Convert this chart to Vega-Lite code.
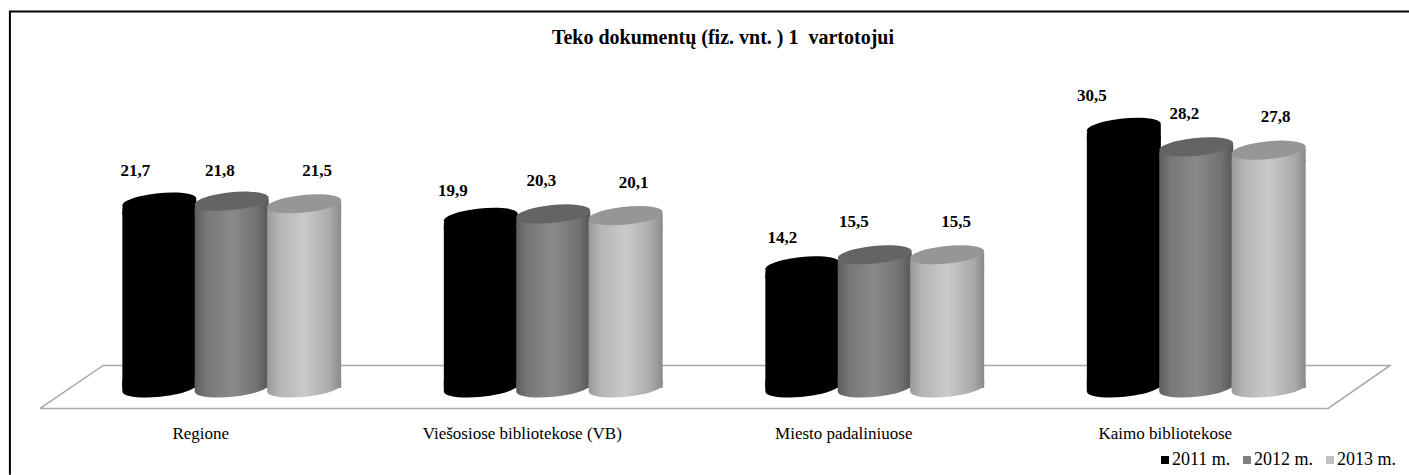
{"$schema":"https://vega.github.io/schema/vega-lite/v6.json","width":1286,"height":374,"autosize":"none","padding":{"left":71,"top":48,"right":52,"bottom":53},"background":"white","config":{"view":{"stroke":null},"font":"Liberation Serif"},
"title":{"text":"Teko dokumentų (fiz. vnt. ) 1\u00a0\u00a0vartotojui","font":"Liberation Serif","fontSize":20,"fontWeight":"bold","color":"black","anchor":"middle","frame":"group","dx":9,"offset":-41},
"data":{"values":[
{"cat":"Regione","year":"2011","value":21.7,"label":"21,7"},{"cat":"Regione","year":"2012","value":21.8,"label":"21,8"},{"cat":"Regione","year":"2013","value":21.5,"label":"21,5"},
{"cat":"Viešosiose bibliotekose (VB)","year":"2011","value":19.9,"label":"19,9"},{"cat":"Viešosiose bibliotekose (VB)","year":"2012","value":20.3,"label":"20,3"},{"cat":"Viešosiose bibliotekose (VB)","year":"2013","value":20.1,"label":"20,1"},
{"cat":"Miesto padaliniuose","year":"2011","value":14.2,"label":"14,2"},{"cat":"Miesto padaliniuose","year":"2012","value":15.5,"label":"15,5"},{"cat":"Miesto padaliniuose","year":"2013","value":15.5,"label":"15,5"},
{"cat":"Kaimo bibliotekose","year":"2011","value":30.5,"label":"30,5"},{"cat":"Kaimo bibliotekose","year":"2012","value":28.2,"label":"28,2"},{"cat":"Kaimo bibliotekose","year":"2013","value":27.8,"label":"27,8"}]},
"resolve":{"scale":{"x":"independent"}},
"layer":[
{"data":{"values":[
{"s":"frame","o":1,"u":-0.19,"v":-10.2},{"s":"frame","o":2,"u":-0.19,"v":44.3},{"s":"frame","o":3,"u":4.17,"v":44.3}]},
"mark":{"type":"line","color":"black","strokeWidth":2,"clip":false},
"encoding":{"x":{"field":"u","type":"quantitative","axis":null,"scale":{"domain":[0,4],"nice":false,"zero":false}},"y":{"field":"v","type":"quantitative","axis":null,"scale":{"domain":[-4,40],"nice":false,"zero":false}},"order":{"field":"o"},"detail":{"field":"s"}}},
{"data":{"values":[
{"s":"floor","o":1,"u":-0.096,"v":-2.4},{"s":"floor","o":2,"u":0.1,"v":2.65},{"s":"floor","o":3,"u":4.103,"v":2.65},{"s":"floor","o":4,"u":3.91,"v":-2.4},{"s":"floor","o":5,"u":-0.096,"v":-2.4}]},
"mark":{"type":"line","color":"#a8a8a8","strokeWidth":1.5,"clip":false},
"encoding":{"x":{"field":"u","type":"quantitative","axis":null,"scale":{"domain":[0,4],"nice":false,"zero":false}},"y":{"field":"v","type":"quantitative"},"order":{"field":"o"},"detail":{"field":"s"}}},
{"encoding":{
"x":{"field":"cat","type":"nominal","sort":["Regione","Viešosiose bibliotekose (VB)","Miesto padaliniuose","Kaimo bibliotekose"],"scale":{"paddingInner":0,"paddingOuter":0},"axis":{"title":null,"domain":false,"ticks":false,"labelAngle":0,"labelOffset":-31,"labelPadding":3,"labelLimit":0,"labelFont":"Liberation Serif","labelFontSize":17,"labelColor":"black"}},
"xOffset":{"field":"year","type":"nominal","scale":{"paddingInner":0,"paddingOuter":0.72}},
"y":{"field":"value","type":"quantitative"}},
"layer":[
{"transform":[{"filter":"datum.year==='2011'"}],"mark":{"type":"point","filled":true,"opacity":1,"size":5476,"color":"#000000","shape":"M-1,-0.2 L1,-0.2 L1,-0.1 A1.005,0.24 -5.7 0 1 -1,0.1 Z"},"encoding":{"y":{"datum":0,"type":"quantitative"}}},
{"transform":[{"filter":"datum.year==='2011'"}],"mark":{"type":"bar","width":74,"yOffset":8,"color":"#000000"},"encoding":{"y2":{"datum":0}}},
{"transform":[{"filter":"datum.year==='2011'"}],"mark":{"type":"point","filled":true,"opacity":1,"size":5476,"color":"#000000","shape":"M-1,0.1 L-1,0.3 L1,0.3 L1,-0.1 Z"}},
{"transform":[{"filter":"datum.year==='2011'"}],"mark":{"type":"point","filled":true,"opacity":1,"yOffset":-1.5,"size":5476,"color":"#000000","shape":"M-1,0.1 A1.005,0.24 -5.7 1 1 1,-0.1 A1.005,0.24 -5.7 1 1 -1,0.1 Z"}},
{"transform":[{"filter":"datum.year==='2012'"}],"mark":{"type":"point","filled":true,"opacity":1,"size":5476,"color":{"gradient":"linear","x1":0,"y1":0,"x2":1,"y2":0,"stops":[{"offset":0,"color":"#5c5c5c"},{"offset":0.15,"color":"#777777"},{"offset":0.5,"color":"#8a8a8a"},{"offset":0.85,"color":"#707070"},{"offset":1,"color":"#555555"}]},"shape":"M-1,-0.2 L1,-0.2 L1,-0.1 A1.005,0.24 -5.7 0 1 -1,0.1 Z"},"encoding":{"y":{"datum":0,"type":"quantitative"}}},
{"transform":[{"filter":"datum.year==='2012'"}],"mark":{"type":"bar","width":74,"yOffset":8,"color":{"gradient":"linear","x1":0,"y1":0,"x2":1,"y2":0,"stops":[{"offset":0,"color":"#5c5c5c"},{"offset":0.15,"color":"#777777"},{"offset":0.5,"color":"#8a8a8a"},{"offset":0.85,"color":"#707070"},{"offset":1,"color":"#555555"}]}},"encoding":{"y2":{"datum":0}}},
{"transform":[{"filter":"datum.year==='2012'"}],"mark":{"type":"point","filled":true,"opacity":1,"size":5476,"color":{"gradient":"linear","x1":0,"y1":0,"x2":1,"y2":0,"stops":[{"offset":0,"color":"#5c5c5c"},{"offset":0.15,"color":"#777777"},{"offset":0.5,"color":"#8a8a8a"},{"offset":0.85,"color":"#707070"},{"offset":1,"color":"#555555"}]},"shape":"M-1,0.1 L-1,0.3 L1,0.3 L1,-0.1 Z"}},
{"transform":[{"filter":"datum.year==='2012'"}],"mark":{"type":"point","filled":true,"opacity":1,"yOffset":-1.5,"size":5476,"color":"#646464","shape":"M-1,0.1 A1.005,0.24 -5.7 1 1 1,-0.1 A1.005,0.24 -5.7 1 1 -1,0.1 Z"}},
{"transform":[{"filter":"datum.year==='2013'"}],"mark":{"type":"point","filled":true,"opacity":1,"size":5476,"color":{"gradient":"linear","x1":0,"y1":0,"x2":1,"y2":0,"stops":[{"offset":0,"color":"#999999"},{"offset":0.15,"color":"#b4b4b4"},{"offset":0.5,"color":"#cacaca"},{"offset":0.85,"color":"#aaaaaa"},{"offset":1,"color":"#8a8a8a"}]},"shape":"M-1,-0.2 L1,-0.2 L1,-0.1 A1.005,0.24 -5.7 0 1 -1,0.1 Z"},"encoding":{"y":{"datum":0,"type":"quantitative"}}},
{"transform":[{"filter":"datum.year==='2013'"}],"mark":{"type":"bar","width":74,"yOffset":8,"color":{"gradient":"linear","x1":0,"y1":0,"x2":1,"y2":0,"stops":[{"offset":0,"color":"#999999"},{"offset":0.15,"color":"#b4b4b4"},{"offset":0.5,"color":"#cacaca"},{"offset":0.85,"color":"#aaaaaa"},{"offset":1,"color":"#8a8a8a"}]}},"encoding":{"y2":{"datum":0}}},
{"transform":[{"filter":"datum.year==='2013'"}],"mark":{"type":"point","filled":true,"opacity":1,"size":5476,"color":{"gradient":"linear","x1":0,"y1":0,"x2":1,"y2":0,"stops":[{"offset":0,"color":"#999999"},{"offset":0.15,"color":"#b4b4b4"},{"offset":0.5,"color":"#cacaca"},{"offset":0.85,"color":"#aaaaaa"},{"offset":1,"color":"#8a8a8a"}]},"shape":"M-1,0.1 L-1,0.3 L1,0.3 L1,-0.1 Z"}},
{"transform":[{"filter":"datum.year==='2013'"}],"mark":{"type":"point","filled":true,"opacity":1,"yOffset":-1.5,"size":5476,"color":"#969696","shape":"M-1,0.1 A1.005,0.24 -5.7 1 1 1,-0.1 A1.005,0.24 -5.7 1 1 -1,0.1 Z"}},
{"mark":{"type":"point","filled":true,"size":0},"encoding":{"color":{"field":"year","type":"nominal","scale":{"domain":["2011","2012","2013"],"range":["#000000","#808080","#c0c0c0"]},"legend":{"title":null,"orient":"none","legendX":1085,"legendY":403,"direction":"horizontal","columns":3,"symbolType":"square","symbolSize":64,"symbolOpacity":1,"labelFont":"Liberation Serif","labelFontSize":18,"labelColor":"black","labelExpr":"datum.label+' m.'","columnPadding":7,"symbolOffset":0,"labelOffset":-2}}}},
{"transform":[{"filter":"datum.year==='2011'&&datum.cat==='Regione'"}],"mark":{"type":"text","dx":-24,"dy":-33,"fontWeight":"bold","fontSize":17,"font":"Liberation Serif","color":"black"},"encoding":{"text":{"field":"label"}}},
{"transform":[{"filter":"datum.year==='2011'&&datum.cat==='Viešosiose bibliotekose (VB)'"}],"mark":{"type":"text","dx":-28,"dy":-28,"fontWeight":"bold","fontSize":17,"font":"Liberation Serif","color":"black"},"encoding":{"text":{"field":"label"}}},
{"transform":[{"filter":"datum.year==='2011'&&datum.cat==='Miesto padaliniuose'"}],"mark":{"type":"text","dx":-20,"dy":-29,"fontWeight":"bold","fontSize":17,"font":"Liberation Serif","color":"black"},"encoding":{"text":{"field":"label"}}},
{"transform":[{"filter":"datum.year==='2011'&&datum.cat==='Kaimo bibliotekose'"}],"mark":{"type":"text","dx":-32,"dy":-33,"fontWeight":"bold","fontSize":17,"font":"Liberation Serif","color":"black"},"encoding":{"text":{"field":"label"}}},
{"transform":[{"filter":"datum.year==='2012'&&datum.cat==='Regione'"}],"mark":{"type":"text","dx":-12,"dy":-32,"fontWeight":"bold","fontSize":17,"font":"Liberation Serif","color":"black"},"encoding":{"text":{"field":"label"}}},
{"transform":[{"filter":"datum.year==='2012'&&datum.cat==='Viešosiose bibliotekose (VB)'"}],"mark":{"type":"text","dx":-12,"dy":-34,"fontWeight":"bold","fontSize":17,"font":"Liberation Serif","color":"black"},"encoding":{"text":{"field":"label"}}},
{"transform":[{"filter":"datum.year==='2012'&&datum.cat==='Miesto padaliniuose'"}],"mark":{"type":"text","dx":-21,"dy":-34,"fontWeight":"bold","fontSize":17,"font":"Liberation Serif","color":"black"},"encoding":{"text":{"field":"label"}}},
{"transform":[{"filter":"datum.year==='2012'&&datum.cat==='Kaimo bibliotekose'"}],"mark":{"type":"text","dx":-12,"dy":-34,"fontWeight":"bold","fontSize":17,"font":"Liberation Serif","color":"black"},"encoding":{"text":{"field":"label"}}},
{"transform":[{"filter":"datum.year==='2013'&&datum.cat==='Regione'"}],"mark":{"type":"text","dx":13,"dy":-34,"fontWeight":"bold","fontSize":17,"font":"Liberation Serif","color":"black"},"encoding":{"text":{"field":"label"}}},
{"transform":[{"filter":"datum.year==='2013'&&datum.cat==='Viešosiose bibliotekose (VB)'"}],"mark":{"type":"text","dx":8,"dy":-34,"fontWeight":"bold","fontSize":17,"font":"Liberation Serif","color":"black"},"encoding":{"text":{"field":"label"}}},
{"transform":[{"filter":"datum.year==='2013'&&datum.cat==='Miesto padaliniuose'"}],"mark":{"type":"text","dx":9,"dy":-34,"fontWeight":"bold","fontSize":17,"font":"Liberation Serif","color":"black"},"encoding":{"text":{"field":"label"}}},
{"transform":[{"filter":"datum.year==='2013'&&datum.cat==='Kaimo bibliotekose'"}],"mark":{"type":"text","dx":7,"dy":-35,"fontWeight":"bold","fontSize":17,"font":"Liberation Serif","color":"black"},"encoding":{"text":{"field":"label"}}}
]}]}
